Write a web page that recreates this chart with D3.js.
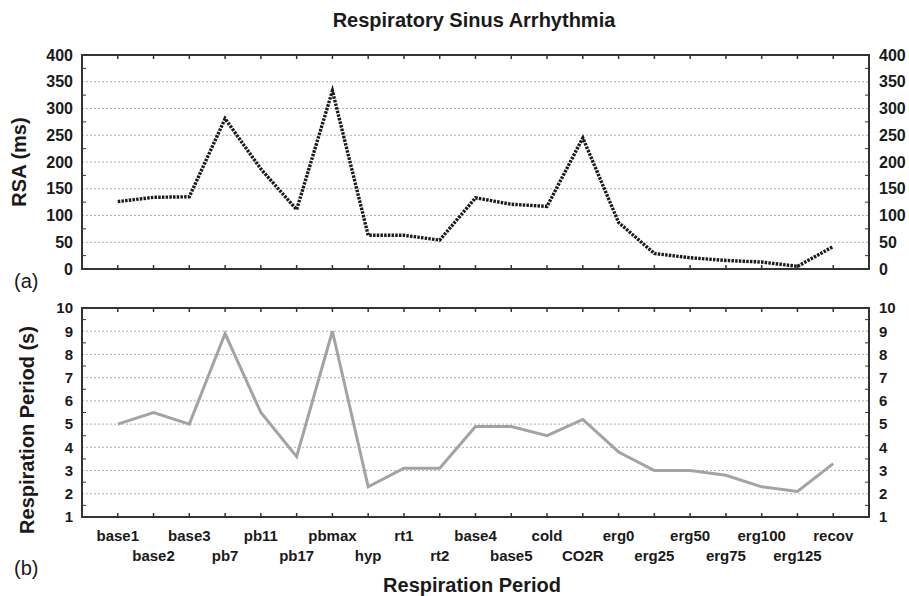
<!DOCTYPE html>
<html>
<head>
<meta charset="utf-8">
<script src="https://cdn.jsdelivr.net/npm/d3@7/dist/d3.min.js"></script>
<style>
  body { margin: 0; background: #fff; }
  svg text { font-family: "Liberation Sans", Arial, sans-serif; fill: #1a1a1a; }
</style>
</head>
<body>
<div id="chart"></div>
<script>
// categories along the x axis
const periods = ['base1', 'base2', 'base3', 'pb7', 'pb11', 'pb17', 'pbmax', 'hyp', 'rt1', 'rt2',
  'base4', 'base5', 'cold', 'CO2R', 'erg0', 'erg25', 'erg50', 'erg75', 'erg100', 'erg125', 'recov'];
// RSA (ms), panel (a)
const rsa = [126, 134, 135, 281, 187, 111, 333, 63, 63, 54, 133, 121, 117, 245, 87, 29, 21, 16, 13, 5, 42];
// respiration period (s), panel (b)
const respPeriod = [5.0, 5.5, 5.0, 8.9, 5.5, 3.6, 9.0, 2.3, 3.1, 3.1, 4.9, 4.9, 4.5, 5.2, 3.8, 3.0, 3.0, 2.8, 2.3, 2.1, 3.3];
const rsaTicks = [0, 50, 100, 150, 200, 250, 300, 350, 400];
const respTicks = [1, 2, 3, 4, 5, 6, 7, 8, 9, 10];

const width = 909;
const height = 596;
const left = 82;
const right = 869;

const svg = d3.select('#chart')
    .append('svg')
    .attr('width', width)
    .attr('height', height);

const x = d3.scalePoint()
    .domain(periods)
    .range([left, right])
    .padding(1);

// draws one panel: grid, frame, ticks, labels and the line
const panel = (values, ticks, top, bottom, fontSize, lineStyle) => {
  const y = d3.scaleLinear()
      .domain([ticks[0], ticks[ticks.length - 1]])
      .range([bottom, top]);
  const g = svg.append('g');
  const minor = d3.pairs(ticks).map((p) => (p[0] + p[1]) / 2);

  // dotted grid
  g.selectAll('line.grid')
      .data(ticks.slice(1, -1))
      .join('line')
      .attr('x1', left).attr('x2', right)
      .attr('y1', (d) => y(d)).attr('y2', (d) => y(d))
      .attr('stroke', '#b0b0b0')
      .attr('stroke-width', 1)
      .attr('stroke-dasharray', '2,2');

  // left and right axes
  const leftAxis = d3.axisLeft(y).tickValues(ticks).tickSize(0).tickPadding(9);
  const rightAxis = d3.axisRight(y).tickValues(ticks).tickSize(0).tickPadding(10);
  [[leftAxis, left], [rightAxis, right]].forEach(([ax, pos]) => {
    const a = g.append('g')
        .attr('transform', 'translate(' + pos + ',0)')
        .call(ax);
    a.select('.domain').remove();
    a.selectAll('text')
        .style('font-size', fontSize + 'px')
        .style('font-weight', 'bold');
  });

  // minor y ticks, pointing inside
  [[left, 4], [right, -4]].forEach(([pos, len]) => {
    g.selectAll(null)
        .data(minor)
        .join('line')
        .attr('x1', pos).attr('x2', pos + len)
        .attr('y1', (d) => y(d)).attr('y2', (d) => y(d))
        .attr('stroke', '#333')
        .attr('stroke-width', 1);
  });

  // x ticks on top and bottom, pointing inside
  [[top, 4], [bottom, -4]].forEach(([pos, len]) => {
    g.selectAll(null)
        .data(periods)
        .join('line')
        .attr('x1', (d) => x(d)).attr('x2', (d) => x(d))
        .attr('y1', pos).attr('y2', pos + len)
        .attr('stroke', '#333')
        .attr('stroke-width', 1.5);
  });

  // the series
  const line = g.append('path')
      .datum(values)
      .attr('fill', 'none')
      .attr('stroke', lineStyle.color)
      .attr('stroke-width', lineStyle.width)
      .attr('stroke-linejoin', 'miter')
      .attr('d', d3.line()
          .x((d, i) => x(periods[i]))
          .y((d) => y(d)));
  if (lineStyle.dash) line.attr('stroke-dasharray', lineStyle.dash);

  // frame
  g.append('rect')
      .attr('x', left).attr('y', top)
      .attr('width', right - left).attr('height', bottom - top)
      .attr('fill', 'none')
      .attr('stroke', '#333')
      .attr('stroke-width', 2);
  return y;
};

panel(rsa, rsaTicks, 55, 269, 16, {color: '#1a1a1a', width: 3.4, dash: '2.5,1.2'});
panel(respPeriod, respTicks, 308, 517, 15, {color: '#a3a3a3', width: 3});

// category labels, alternating rows
svg.append('g')
    .selectAll('text')
    .data(periods)
    .join('text')
    .attr('x', (d) => x(d))
    .attr('y', (d, i) => i % 2 === 0 ? 541 : 561)
    .attr('text-anchor', 'middle')
    .style('font-size', '15px')
    .style('font-weight', 'bold')
    .text((d) => d);

// titles
svg.append('text')
    .attr('x', 474).attr('y', 27)
    .attr('text-anchor', 'middle')
    .style('font-size', '20px')
    .style('font-weight', 'bold')
    .text('Respiratory Sinus Arrhythmia');

svg.append('text')
    .attr('x', 472).attr('y', 592)
    .attr('text-anchor', 'middle')
    .style('font-size', '20px')
    .style('font-weight', 'bold')
    .text('Respiration Period');

svg.append('text')
    .attr('transform', 'translate(26,162) rotate(-90)')
    .attr('text-anchor', 'middle')
    .style('font-size', '20px')
    .style('font-weight', 'bold')
    .text('RSA (ms)');

svg.append('text')
    .attr('transform', 'translate(34,430) rotate(-90)')
    .attr('text-anchor', 'middle')
    .style('font-size', '20px')
    .style('font-weight', 'bold')
    .text('Respiration Period (s)');

svg.append('text')
    .attr('x', 14).attr('y', 288)
    .style('font-size', '20px')
    .text('(a)');

svg.append('text')
    .attr('x', 14).attr('y', 575)
    .style('font-size', '20px')
    .text('(b)');
</script>
</body>
</html>
